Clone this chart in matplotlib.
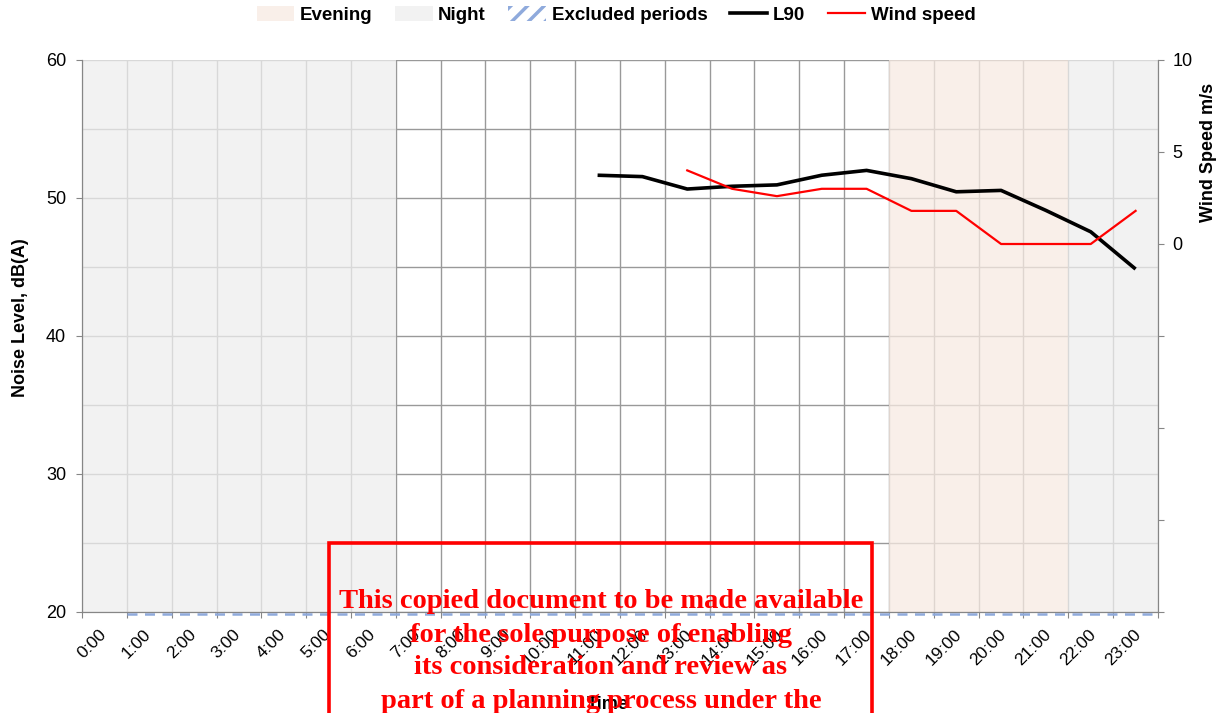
import matplotlib
matplotlib.use("Agg")
import matplotlib.pyplot as plt
import matplotlib.transforms as mtransforms
from matplotlib.patches import Patch, Rectangle
from matplotlib.lines import Line2D
from matplotlib.ticker import MultipleLocator, FuncFormatter

plt.rcParams['font.family'] = ['Liberation Sans', 'DejaVu Sans']
plt.rcParams['hatch.linewidth'] = 2.5

# hourly slots (values plotted at the half hour)
hours = list(range(24))
hour_labels = [f"{h}:00" for h in hours]

l90_hours = [11.5, 12.5, 13.5, 14.5, 15.5, 16.5, 17.5, 18.5, 19.5, 20.5, 21.5, 22.5, 23.5]
l90_db = [51.65, 51.55, 50.65, 50.85, 50.95, 51.65, 52.0, 51.4, 50.45, 50.55, 49.1, 47.55, 44.85]

wind_hours = [13.5, 14.5, 15.5, 16.5, 17.5, 18.5, 19.5, 20.5, 21.5, 22.5, 23.5]
wind_ms = [4.0, 3.0, 2.6, 3.0, 3.0, 1.8, 1.8, 0.0, 0.0, 0.0, 1.8]

night_periods = [(0, 7), (22, 24)]
evening_periods = [(18, 22)]
excluded_periods = [(1, 24)]

watermark_lines = [
    "This copied document to be made available",
    "for the sole purpose of enabling",
    "its consideration and review as",
    "part of a planning process under the",
]

fig = plt.figure(figsize=(12.25, 7.13), dpi=100)
ax = fig.add_axes([82 / 1225, 1 - 612 / 713, 1076 / 1225, 552 / 713])
ax2 = ax.twinx()

grid_col = '#999999'
ax.set_xlim(0, 24)
ax.set_ylim(20, 60)
ax.set_axisbelow(True)
ax.xaxis.set_major_locator(MultipleLocator(1))
ax.yaxis.set_major_locator(MultipleLocator(10))
ax.yaxis.set_minor_locator(MultipleLocator(5))
ax.grid(True, which='major', axis='x', color=grid_col, lw=1)
ax.grid(True, which='both', axis='y', color=grid_col, lw=1)

# shaded periods drawn semi-transparent over the grid
for s, e in night_periods:
    ax.axvspan(s, e, color='#eeeeee', alpha=0.75, lw=0, zorder=1)
for s, e in evening_periods:
    ax.axvspan(s, e, color='#f7eae2', alpha=0.75, lw=0, zorder=1)
down = mtransforms.ScaledTranslation(0, -0.02, fig.dpi_scale_trans)
for s, e in excluded_periods:
    ax.plot([s, e], [20, 20], color='#8faadc', lw=1.8, ls=(0, (4, 3)),
            zorder=5, clip_on=False, transform=ax.transData + down)

ax.plot(l90_hours, l90_db, color='black', lw=2.6, zorder=4, solid_capstyle='butt')
ax2.plot(wind_hours, wind_ms, color='red', lw=1.6, zorder=4)

ax2.set_ylim(-20, 10)
ax2.yaxis.set_major_locator(MultipleLocator(5))
ax2.yaxis.set_major_formatter(FuncFormatter(lambda v, p: f"{v:.0f}" if v >= 0 else ""))

ax.set_xticks(list(range(25)))
ax.set_xticklabels(hour_labels + [""], rotation=45, ha='center', fontsize=12.5)

spine_col = '#868686'
for a in (ax, ax2):
    a.spines['top'].set_visible(False)
    for side in ('left', 'right', 'bottom'):
        a.spines[side].set_color(spine_col)
ax.tick_params(axis='x', length=4, pad=6.5, color=spine_col)
ax.tick_params(axis='y', which='major', length=4.5, pad=7, color=spine_col, labelsize=13)
ax.tick_params(axis='y', which='minor', length=0)
ax2.tick_params(axis='y', length=4.5, pad=6, color=spine_col, labelsize=13)

# shift rotated hour labels a little to the right (after tick_params)
offset = mtransforms.ScaledTranslation(0.1, 0, fig.dpi_scale_trans)
for lab in ax.get_xticklabels():
    lab.set_transform(lab.get_transform() + offset)

ax.set_ylabel("Noise Level, dB(A)", fontsize=13, fontweight='bold')
ax.yaxis.set_label_coords(-0.0576, 0.533)
ax.yaxis.label.set_va('center')
ax2.set_ylabel("Wind Speed m/s", fontsize=13, fontweight='bold')
ax2.yaxis.set_label_coords(1.0465, 0.8333)
ax2.yaxis.label.set_va('center')
ax.set_xlabel("Time", fontsize=13, fontweight='bold')
ax.xaxis.set_label_coords(0.4888, -0.168)
ax.xaxis.label.set_va('center')

handles = [
    Patch(facecolor='#f9efe9', edgecolor='none', label='Evening'),
    Patch(facecolor='#f2f2f2', edgecolor='none', label='Night'),
    Patch(facecolor='white', edgecolor='#8faadc', hatch='//', lw=0, label='Excluded periods'),
    Line2D([], [], color='black', lw=2.6, label='L90'),
    Line2D([], [], color='red', lw=1.6, label='Wind speed'),
]
fig.legend(handles=handles, loc='center', bbox_to_anchor=(0.503, 1 - 15 / 713), ncol=5,
           frameon=False, prop={'weight': 'bold', 'size': 13.5},
           handlelength=2.0, handletextpad=0.3, columnspacing=1.2, handleheight=0.9)

# watermark box
fig.patches.append(Rectangle((329 / 1225, -0.05), 543 / 1225, 0.05 + 1 - 543 / 713,
                             transform=fig.transFigure, fill=False, edgecolor='red',
                             lw=2.6, zorder=10))
for i, line in enumerate(watermark_lines):
    fig.text(601 / 1225, 1 - (602 + 33 * i) / 713, line, ha='center', va='center',
             color='red', fontsize=20.5, fontweight='bold',
             family=['Liberation Serif', 'DejaVu Serif'], zorder=11)

fig.savefig('out.png', dpi=100)
